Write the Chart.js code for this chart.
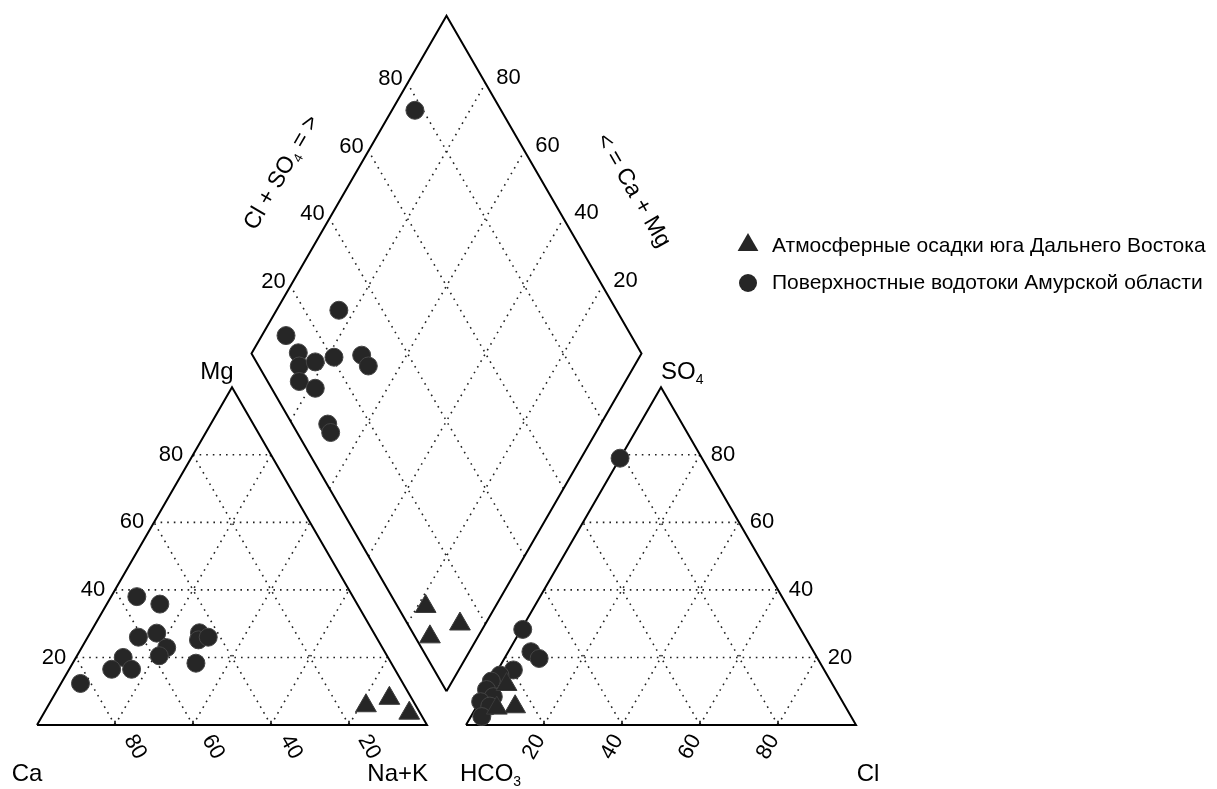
<!DOCTYPE html>
<html>
<head>
<meta charset="utf-8">
<script src="https://cdn.jsdelivr.net/npm/chart.js@4"></script>
<style>
  html, body { margin: 0; padding: 0; background: #fff; }
  #wrap { width: 1217px; height: 789px; position: relative; }
</style>
</head>
<body>
<div id="wrap"><canvas id="piper"></canvas></div>
<script>
// percentages
// cations: [Ca, Mg, Na+K]
const rainCations = [
  [12.8, 5.7, 81.5],
  [5.7, 7.9, 86.4],
  [2.8, 3.5, 93.7]
];
const riverCations = [
  [55.4, 38.0, 6.6],
  [50.6, 35.8, 13.6],
  [61.0, 26.0, 13.0],
  [55.7, 27.2, 17.1],
  [55.3, 22.9, 21.8],
  [58.4, 20.5, 21.1],
  [67.9, 20.0, 12.1],
  [72.6, 16.5, 10.9],
  [67.5, 16.5, 16.0],
  [82.7, 12.3, 5.0],
  [44.7, 27.3, 28.0],
  [46.0, 25.2, 28.8],
  [43.1, 26.0, 30.9],
  [50.1, 18.3, 31.6]
];
// anions: [HCO3, SO4, Cl]
const rainAnions = [
  [83.6, 12.0, 4.4],
  [84.7, 5.4, 9.9],
  [89.6, 5.0, 5.4]
];
const riverAnions = [
  [21.0, 79.0, 0.0],
  [71.3, 28.3, 0.4],
  [72.5, 21.7, 5.8],
  [71.4, 19.7, 8.9],
  [79.7, 16.3, 4.0],
  [83.9, 14.8, 1.3],
  [87.0, 13.0, 0.0],
  [89.5, 10.5, 0.0],
  [88.8, 8.4, 2.8],
  [92.8, 6.9, 0.3],
  [91.1, 5.6, 3.3],
  [94.7, 2.5, 2.8]
];
// diamond: [Cl+SO4, Ca+Mg]
const rainDiamond = [
  [7.2, 17.9],
  [3.8, 12.3],
  [13.4, 6.5]
];
const riverDiamond = [
  [28.8, 84.0],
  [11.5, 93.8],
  [12.1, 88.1],
  [10.4, 85.9],
  [15.1, 82.4],
  [20.6, 78.3],
  [28.0, 71.5],
  [28.1, 68.2],
  [8.1, 83.6],
  [11.2, 78.5],
  [9.1, 70.0],
  [8.6, 68.0],
  [77.9, 94.1]
];
const gridSteps = [20, 40, 60, 80];
const tickLabels = ['20', '40', '60', '80'];
const legendNames = ['Атмосферные осадки юга Дальнего Востока', 'Поверхностные водотоки Амурской области'];

// geometry: triangle side = 100 units
const H = Math.sqrt(3) / 2;
const GAP = 10;
const ANION_X = 100 + GAP;

function cat(ca, mg, nak) { return {x: nak + mg / 2, y: mg * H}; }
function an(hco3, so4, cl) { return {x: ANION_X + cl + so4 / 2, y: so4 * H}; }
function dia(clso4, camg) { return {x: 100 + GAP / 2 + (clso4 - camg) / 2, y: GAP * H + (clso4 + camg) * H}; }

const BREAK = {x: null, y: null};
function segs(list) {
  const out = [];
  list.forEach(s => { out.push(s[0], s[1], BREAK); });
  return out;
}

const gridSegs = [];
gridSteps.forEach(k => {
  gridSegs.push([cat(100 - k, k, 0), cat(0, k, 100 - k)]);
  gridSegs.push([cat(100 - k, 0, k), cat(0, 100 - k, k)]);
  gridSegs.push([cat(k, 0, 100 - k), cat(k, 100 - k, 0)]);
  gridSegs.push([an(100 - k, k, 0), an(0, k, 100 - k)]);
  gridSegs.push([an(100 - k, 0, k), an(0, 100 - k, k)]);
  gridSegs.push([an(k, 0, 100 - k), an(k, 100 - k, 0)]);
  gridSegs.push([dia(k, 0), dia(k, 100)]);
  gridSegs.push([dia(0, k), dia(100, k)]);
});

const tickSegs = [];
gridSteps.forEach(k => {
  const a = cat(k, 0, 100 - k), b = an(100 - k, 0, k);
  tickSegs.push([a, {x: a.x, y: 1.1}]);
  tickSegs.push([b, {x: b.x, y: 1.1}]);
});

const outline = [
  cat(100, 0, 0), cat(0, 0, 100), cat(0, 100, 0), cat(100, 0, 0), BREAK,
  an(100, 0, 0), an(0, 0, 100), an(0, 100, 0), an(100, 0, 0), BREAK,
  dia(0, 0), dia(100, 0), dia(100, 100), dia(0, 100), dia(0, 0)
];

const rainPts = [].concat(
  rainCations.map(d => cat(d[0], d[1], d[2])),
  rainAnions.map(d => an(d[0], d[1], d[2])),
  rainDiamond.map(d => dia(d[0], d[1]))
);
const riverPts = [].concat(
  riverCations.map(d => cat(d[0], d[1], d[2])),
  riverAnions.map(d => an(d[0], d[1], d[2])),
  riverDiamond.map(d => dia(d[0], d[1]))
);

const PX = 3.9;           // pixels per unit
const LEFT = 37, BASE = 725;
const W = 1217, HT = 789;

const FONT = '"Liberation Sans", Arial, sans-serif';
const markFill = '#262626';

function drawRich(ctx, parts, cx, cy, size, angle, align) {
  ctx.save();
  ctx.translate(cx, cy);
  ctx.rotate(angle * Math.PI / 180);
  const sub = Math.round(size * 0.58);
  let total = 0;
  const widths = parts.map(p => {
    ctx.font = (p.sub ? sub : size) + 'px ' + FONT;
    const w = ctx.measureText(p.t).width;
    total += w;
    return w;
  });
  let xx = align === 'left' ? 0 : (align === 'right' ? -total : -total / 2);
  ctx.textAlign = 'left';
  ctx.textBaseline = 'middle';
  ctx.fillStyle = '#000';
  parts.forEach((p, i) => {
    ctx.font = (p.sub ? sub : size) + 'px ' + FONT;
    ctx.fillText(p.t, xx, p.sub ? size * 0.32 : 0);
    xx += widths[i];
  });
  ctx.restore();
}

const textPlugin = {
  id: 'piperText',
  afterDraw(chart) {
    const {ctx} = chart;
    const xs = chart.scales.x, ys = chart.scales.y;
    const P = p => [xs.getPixelForValue(p.x), ys.getPixelForValue(p.y)];
    const T = 22, BIG = 24;

    gridSteps.forEach((k, i) => {
      let p;
      p = P(cat(100 - k, k, 0));
      drawRich(ctx, [{t: tickLabels[i]}], p[0] - 22, p[1], T, 0);
      p = P(cat(k, 0, 100 - k));
      drawRich(ctx, [{t: tickLabels[i]}], p[0] + 20, p[1] + 22, T, 60);
      p = P(an(100 - k, 0, k));
      drawRich(ctx, [{t: tickLabels[i]}], p[0] - 10, p[1] + 22, T, -60);
      p = P(an(0, k, 100 - k));
      drawRich(ctx, [{t: tickLabels[i]}], p[0] + 23, p[1], T, 0);
      p = P(dia(k, 100));
      drawRich(ctx, [{t: tickLabels[i]}], p[0] - 17, p[1] - 4, T, 0);
      p = P(dia(100, k));
      drawRich(ctx, [{t: tickLabels[i]}], p[0] + 23, p[1] - 5, T, 0);
    });

    let p = P(dia(50, 100));
    drawRich(ctx, [{t: 'Cl + SO'}, {t: '4', sub: true}, {t: ' = >'}], p[0] - 67, p[1] - 12, 23, -60);
    p = P(dia(100, 50));
    drawRich(ctx, [{t: '< = Ca + Mg'}], p[0] + 89, p[1] + 6, 23, 60);

    p = P(cat(0, 100, 0));
    drawRich(ctx, [{t: 'Mg'}], p[0] - 15, p[1] - 15, BIG, 0);
    p = P(an(0, 100, 0));
    drawRich(ctx, [{t: 'SO'}, {t: '4', sub: true}], p[0], p[1] - 15, BIG, 0, 'left');
    p = P(cat(100, 0, 0));
    drawRich(ctx, [{t: 'Ca'}], p[0] - 10, p[1] + 49, BIG, 0);
    p = P(cat(0, 0, 100));
    drawRich(ctx, [{t: 'Na+K'}], p[0] + 1, p[1] + 49, BIG, 0, 'right');
    p = P(an(100, 0, 0));
    drawRich(ctx, [{t: 'HCO'}, {t: '3', sub: true}], p[0] - 6, p[1] + 49, BIG, 0, 'left');
    p = P(an(0, 0, 100));
    drawRich(ctx, [{t: 'Cl'}], p[0] + 12, p[1] + 49, BIG, 0);

    // legend
    const lx = 748, ly = [245, 283];
    ctx.save();
    ctx.fillStyle = markFill;
    const r = 12;
    ctx.beginPath();
    ctx.moveTo(lx, ly[0] - r);
    ctx.lineTo(lx + r * Math.sin(2 * Math.PI / 3), ly[0] - r * Math.cos(2 * Math.PI / 3));
    ctx.lineTo(lx + r * Math.sin(4 * Math.PI / 3), ly[0] - r * Math.cos(4 * Math.PI / 3));
    ctx.closePath();
    ctx.fill();
    ctx.beginPath();
    ctx.arc(lx, ly[1], 9, 0, Math.PI * 2);
    ctx.fill();
    ctx.restore();
    drawRich(ctx, [{t: legendNames[0]}], lx + 24, ly[0] + 1, 21, 0, 'left');
    drawRich(ctx, [{t: legendNames[1]}], lx + 24, ly[1], 21, 0, 'left');
  }
};

new Chart(document.getElementById('piper'), {
  type: 'scatter',
  data: {
    datasets: [
      {
        data: rainPts,
        pointStyle: 'triangle',
        pointRadius: 12,
        backgroundColor: markFill,
        borderColor: '#3a3a3a',
        borderWidth: 1
      },
      {
        data: riverPts,
        pointStyle: 'circle',
        pointRadius: 9,
        backgroundColor: markFill,
        borderColor: '#444',
        borderWidth: 1
      },
      {
        data: outline,
        showLine: true,
        pointRadius: 0,
        borderColor: '#000',
        borderWidth: 2,
        spanGaps: false
      },
      {
        data: segs(tickSegs),
        showLine: true,
        pointRadius: 0,
        borderColor: '#000',
        borderWidth: 1.5,
        spanGaps: false
      },
      {
        data: segs(gridSegs),
        showLine: true,
        pointRadius: 0,
        borderColor: '#222',
        borderWidth: 1.6,
        borderDash: [1.6, 5],
        spanGaps: false
      }
    ]
  },
  options: {
    responsive: true,
    maintainAspectRatio: false,
    animation: false,
    events: [],
    layout: {padding: 0, autoPadding: false},
    plugins: {legend: {display: false}, tooltip: {enabled: false}},
    scales: {
      x: {type: 'linear', display: false, min: -LEFT / PX, max: (W - LEFT) / PX},
      y: {type: 'linear', display: false, min: -(HT - BASE) / PX, max: BASE / PX}
    }
  },
  plugins: [textPlugin]
});
</script>
</body>
</html>
